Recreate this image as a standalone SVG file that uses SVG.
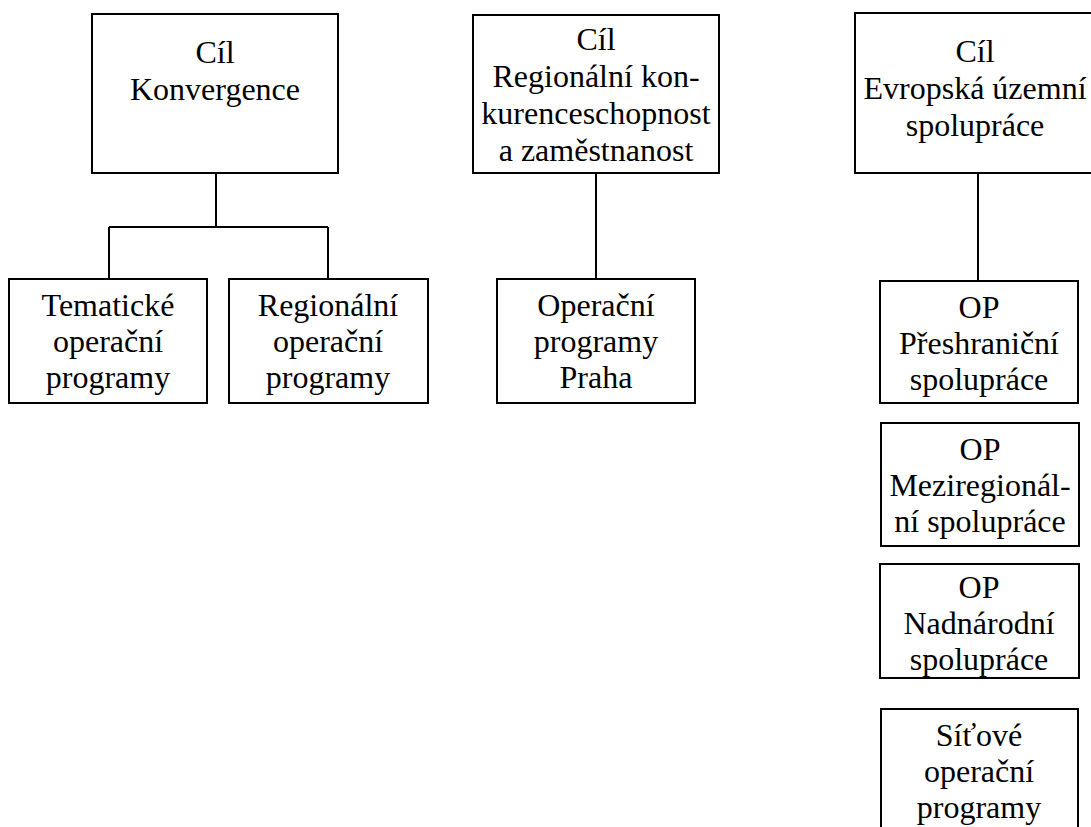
<svg xmlns="http://www.w3.org/2000/svg" width="1091" height="827" viewBox="0 0 1091 827">
<style>
.box{fill:#fff;stroke:#000;stroke-width:2}
.ln{fill:none;stroke:#000;stroke-width:2}
text{font-family:"Liberation Serif","Times New Roman",serif;font-size:32px;fill:#000;text-anchor:middle}
</style>
<rect width="1091" height="827" fill="#fff"/>
<g id="connectors">
<path class="ln" d="M216 173V227M109 227H328M109 227V279M328 227V279"/>
<path class="ln" d="M596 173V279"/>
<path class="ln" d="M978 173V281"/>
</g>
<g id="cil-konvergence">
<rect class="box" x="92" y="14" width="246" height="159"/>
<text x="215" y="63">Cíl</text>
<text x="215" y="100">Konvergence</text>
</g>
<g id="cil-rkz">
<rect class="box" x="473" y="15" width="246" height="158"/>
<text x="596" y="50">Cíl</text>
<text x="596" y="87">Regionální kon-</text>
<text x="596" y="124">kurenceschopnost</text>
<text x="596" y="161">a zaměstnanost</text>
</g>
<g id="cil-eus">
<rect class="box" x="855" y="13" width="250" height="160"/>
<text x="975" y="62">Cíl</text>
<text x="975" y="99">Evropská územní</text>
<text x="975" y="136">spolupráce</text>
</g>
<g id="tematicke">
<rect class="box" x="9" y="279" width="198" height="124"/>
<text x="108" y="316">Tematické</text>
<text x="108" y="352">operační</text>
<text x="108" y="388">programy</text>
</g>
<g id="regionalni">
<rect class="box" x="229" y="279" width="199" height="124"/>
<text x="328" y="316">Regionální</text>
<text x="328" y="352">operační</text>
<text x="328" y="388">programy</text>
</g>
<g id="praha">
<rect class="box" x="497" y="279" width="198" height="124"/>
<text x="596" y="316">Operační</text>
<text x="596" y="352">programy</text>
<text x="596" y="388">Praha</text>
</g>
<g id="op-preshranicni">
<rect class="box" x="880" y="281" width="198" height="122"/>
<text x="979" y="318">OP</text>
<text x="979" y="354">Přeshraniční</text>
<text x="979" y="390">spolupráce</text>
</g>
<g id="op-meziregionalni">
<rect class="box" x="881" y="423" width="198" height="123"/>
<text x="980" y="460">OP</text>
<text x="980" y="496">Meziregionál-</text>
<text x="980" y="532">ní spolupráce</text>
</g>
<g id="op-nadnarodni">
<rect class="box" x="880" y="564" width="199" height="114"/>
<text x="979" y="598">OP</text>
<text x="979" y="634">Nadnárodní</text>
<text x="979" y="670">spolupráce</text>
</g>
<g id="sitove">
<rect class="box" x="881" y="709" width="197" height="130"/>
<text x="979" y="746">Síťové</text>
<text x="979" y="782">operační</text>
<text x="979" y="818">programy</text>
</g>
</svg>
